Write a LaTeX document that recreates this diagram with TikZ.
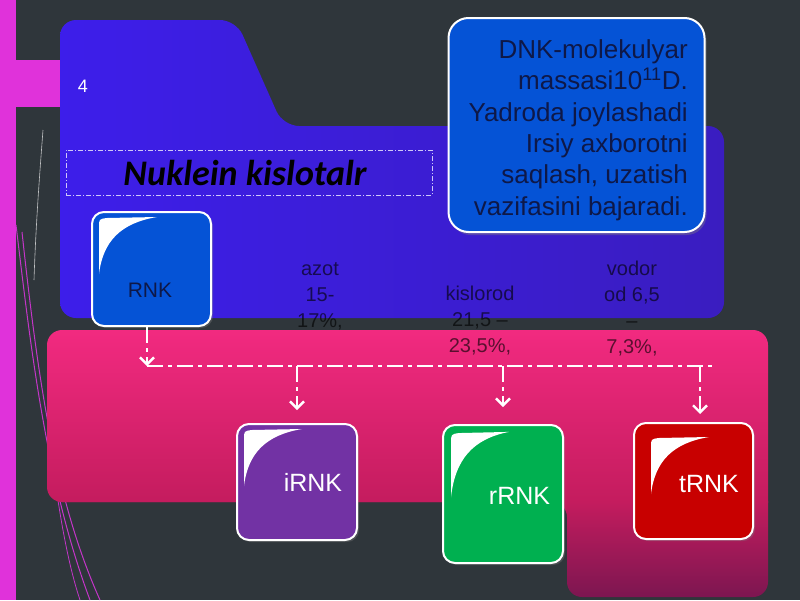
\documentclass[tikz,border=0pt]{standalone}
\usepackage{fontspec}
\setmainfont{Liberation Sans}
\newfontfamily\carlito{Carlito}
\usetikzlibrary{arrows.meta,shadows}
\definecolor{bg}{HTML}{2F363B}
\definecolor{mag}{HTML}{E032DA}
\definecolor{decoline}{HTML}{C435C8}
\definecolor{blueL}{HTML}{3D1EEA}
\definecolor{blueR}{HTML}{3A1DC0}
\definecolor{pinkT}{HTML}{F22A80}
\definecolor{pinkM}{HTML}{C41C5E}
\definecolor{pinkB}{HTML}{7A1650}
\definecolor{boxblue}{HTML}{0553D6}
\definecolor{boxpurple}{HTML}{7232A4}
\definecolor{boxgreen}{HTML}{00B050}
\definecolor{boxred}{HTML}{C80000}
\definecolor{txtdark}{HTML}{0E1848}
\tikzset{
  rbox/.style={draw=white, line width=2pt, rounded corners=12pt, inner sep=0pt,
    drop shadow={opacity=0.35, shadow xshift=2pt, shadow yshift=-2pt}},
  conn/.style={draw=white, line width=2.4pt, dash pattern=on 16pt off 5pt on 4pt off 5pt},
  arrowv/.style={-{Straight Barb[length=7pt,width=14pt]}},
  smalltxt/.style={align=center, font=\fontsize{20}{26}\selectfont, text=black, text opacity=0.62, inner sep=0pt, anchor=north},
  boxlbl/.style={font=\fontsize{25}{30}\selectfont, text=white, inner sep=0pt},
  gloss/.pic={\fill[white] (8,63) -- (8,16) .. controls (8,8) .. (16,7) -- (66,6) .. controls (30,12) and (12,30) .. (8,63);}
}
\begin{document}
\begin{tikzpicture}[x=1pt,y=-1pt]
\useasboundingbox (0,0) rectangle (800,600);
\fill[bg] (0,0) rectangle (800,600);
\fill[mag] (0,0) rectangle (16,600);
\fill[mag] (16,60) rectangle (60,107);
% decorative lines
\draw[decoline, line width=1pt] (16,225) .. controls (30,340) and (45,480) .. (90,600);
\draw[decoline, line width=1pt] (22,232) .. controls (38,380) and (55,500) .. (100,600);
\draw[decoline, line width=0.8pt] (55,480) .. controls (62,530) and (70,570) .. (80,600);
\draw[white!70!bg, line width=0.6pt] (43,130) .. controls (40,170) and (36,220) .. (34,280);
% blue panel
\shade[left color=blueL, right color=blueR, rounded corners=16pt]
  (60,318) -- (60,20) -- (236,20) -- (283,126) -- (724,126) -- (724,318) -- cycle;
% pink panel
\begin{scope}
\clip[rounded corners=15pt] (47,330) -- (768,330) -- (768,597) -- (567,597) -- (567,502) -- (47,502) -- cycle;
\shade[top color=pinkT, bottom color=pinkM] (40,329) rectangle (780,502);
\shade[top color=pinkM, bottom color=pinkB] (40,501.5) rectangle (780,600);
\end{scope}
% slide number
\node[text=white, font=\fontsize{18}{20}\selectfont, inner sep=0pt] (num) at (83,86) {4};
% title
\node[draw=white!75!blueL, line width=0.6pt, dash pattern=on 5pt off 2pt on 1pt off 2pt,
  minimum width=366pt, minimum height=45pt, inner sep=0pt, text=black,
  font=\fontsize{36}{40}\carlito\bfseries\itshape] (title) at (249,172.5) {\hspace*{-8pt}Nuklein kislotalr};
% DNK box
\node[draw=white, line width=2pt, rounded corners=20pt, fill=boxblue, minimum width=256pt, minimum height=214pt,
  drop shadow={opacity=0.4, shadow xshift=2pt, shadow yshift=-3pt}] (dnk) at (576.5,125) {};
\node[anchor=north east, align=right, text=txtdark, inner sep=0pt, font=\fontsize{26}{31.4}\selectfont] (dnkt) at (688,38.5)
  {\rule{0pt}{19.5pt}DNK-molekulyar\\massasi10\textsuperscript{11}D.\\Yadroda joylashadi\\Irsiy axborotni\\saqlash, uzatish\\vazifasini bajaradi.};
% element texts
\node[smalltxt] (azot) at (320,260) {\rule{0pt}{15pt}azot\\15-\\17\%,};
\node[smalltxt] (kisl) at (480,285) {\rule{0pt}{15pt}kislorod\\21,5 –\\23,5\%,};
\node[smalltxt] (vodor) at (632,260) {\rule{0pt}{15pt}vodor\\od 6,5\\–\\7,3\%,};
% boxes
\node[rbox, fill=boxblue, minimum width=119pt, minimum height=114pt] (rnk) at (151.5,269) {};
\node[rbox, fill=boxpurple, minimum width=120pt, minimum height=116pt] (irnk) at (297,482) {};
\node[rbox, fill=boxgreen, minimum width=120pt, minimum height=138pt] (rrnk) at (503,494) {};
\node[rbox, fill=boxred, minimum width=119pt, minimum height=116pt] (trnk) at (693.5,481) {};
\pic at (rnk.north west) {gloss};
\pic at (irnk.north west) {gloss};
\pic[yscale=1.15] at ([shift={(1,1)}]rrnk.north west) {gloss};
\pic at ([shift={(10,9)}]trnk.north west) {gloss};
\node[boxlbl, text=txtdark, font=\fontsize{21}{25}\selectfont] (rnkl) at (150,290.5) {RNK};
\node[boxlbl] (irnkl) at (313,482) {iRNK};
\node[boxlbl] (rrnkl) at (519.5,496) {rRNK};
\node[boxlbl] (trnkl) at (709,483.5) {tRNK};
% connectors
\coordinate (bus0) at (147,366);
\coordinate (bus1) at (712,366);
\coordinate (d1) at (297,366);
\coordinate (d2) at (503,366);
\coordinate (d3) at (700,366);
\draw[conn, arrowv] (rnk.south -| bus0) -- (bus0);
\draw[conn] (bus0) -- (bus1);
\draw[conn, arrowv, shorten >=13pt] (d1) -- (irnk.north);
\draw[conn, arrowv, shorten >=17pt] (d2) -- (rrnk.north);
\draw[conn, arrowv, shorten >=8pt] (d3) -- (d3 |- trnk.north);
\end{tikzpicture}
\end{document}
